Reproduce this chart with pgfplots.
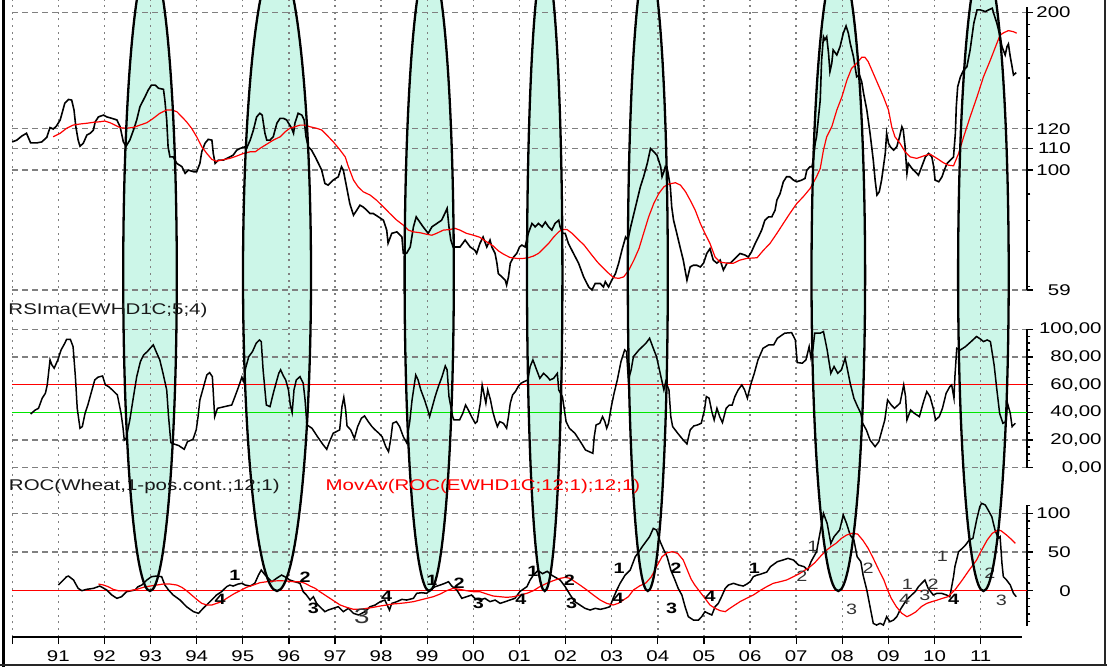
\documentclass[border=0pt]{standalone}
\usepackage{fontspec}
\setmainfont{Liberation Sans}
\newfontfamily\chartfont[FakeStretch=1.32]{Liberation Sans}
\usepackage{pgfplots}
\pgfplotsset{compat=1.18}
\definecolor{aqua}{RGB}{204,246,232}
\definecolor{gridgray}{RGB}{128,128,128}
\definecolor{rsigreen}{RGB}{0,230,0}
\newcommand{\tickfont}{\chartfont\fontsize{15.5}{15.5}\selectfont}
\newcommand{\labfont}{\chartfont\fontsize{15.5}{15.5}\selectfont}
\newcommand{\bnum}{\chartfont\fontsize{15}{15}\selectfont\bfseries}
\newcommand{\rnum}{\chartfont\fontsize{15}{15}\selectfont}
\pgfplotsset{
  panel/.style={scale only axis, anchor=south west, width=1014.64pt, xmin=1990, xmax=2012, clip=false,
    axis x line=none, axis y line*=right, y axis line style={-, line width=1.6pt, black},
    ytick style={line width=1.3pt, black}, tick align=outside, major tick length=6pt, minor tick length=3.5pt,
    ymajorgrids, major grid style={gridgray, line width=1.2pt, dash pattern=on 6pt off 4pt},
    yticklabel style={font=\tickfont, anchor=east, inner sep=0pt},
  }
}
\begin{document}
\begin{tikzpicture}
\useasboundingbox (0,0) rectangle (1107pt,667pt);
\begin{scope}
\clip (0,0) rectangle (1107pt,667pt);
\foreach \cx/\a in {150/26.8, 277/34, 429.2/24.6, 544.7/17.7, 647.8/20, 838.3/26.8, 983.4/25.3} {
  \fill[aqua] (\cx pt,392pt) ellipse [x radius=\a pt, y radius=316pt];
}
\end{scope}

% background axis: vertical grid and time axis
\begin{axis}[at={(12.2pt,30.3pt)}, anchor=south west, scale only axis, width=1010.03pt, height=636.7pt,
 xmin=1990, xmax=2011.9, ymin=0, ymax=1,
 axis x line*=bottom, axis y line=none,
 x axis line style={-, line width=1.6pt, black},
 xtick={1990,...,2011}, xticklabels={,91,92,93,94,95,96,97,98,99,00,01,02,03,04,05,06,07,08,09,10,11},
 minor x tick num=3, tick align=outside, major tick length=7.5pt, minor tick length=4pt,
 xtick style={line width=1.3pt, black},
 xmajorgrids, major grid style={gridgray, line width=1.4pt, dash pattern=on 2pt off 4.7pt},
 xticklabel style={font=\tickfont, inner sep=0pt, anchor=north, yshift=-6.5pt},
]
\end{axis}

% panel 1: price (log)
\begin{axis}[panel, at={(12.2pt,377pt)}, height=283.3pt, ymode=log, ymin=59, ymax=205.3,
 ytick={59,100,110,120,200}, yticklabels={59,100,110,120,200},
 minor ytick={60,70,80,90,130,140,150,160,170,180,190},
 yticklabel style={xshift=38pt}]
\addplot[black, mark=none, line width=1.6pt] table {
1990.00 113.2
1990.10 114.1
1990.21 116.2
1990.31 117.6
1990.40 112.7
1990.53 112.7
1990.64 113.2
1990.75 115.5
1990.82 120.6
1990.89 119.8
1990.96 121.4
1991.04 124.7
1991.07 127.4
1991.14 134.2
1991.22 136.5
1991.29 136.1
1991.34 130.3
1991.38 121.0
1991.43 114.1
1991.47 111.1
1991.54 112.5
1991.62 116.7
1991.69 117.6
1991.76 119.3
1991.80 123.7
1991.87 126.4
1991.98 127.4
1992.05 126.4
1992.16 125.6
1992.27 124.7
1992.34 121.0
1992.41 113.2
1992.47 111.1
1992.55 114.1
1992.63 119.3
1992.70 124.7
1992.77 132.2
1992.88 138.1
1992.95 142.3
1993.02 145.4
1993.10 145.4
1993.17 143.4
1993.28 142.7
1993.31 136.1
1993.35 124.7
1993.38 110.8
1993.42 106.0
1993.49 106.0
1993.57 103.0
1993.68 101.5
1993.75 98.6
1993.82 100.0
1993.93 99.3
1994.00 99.3
1994.07 103.0
1994.11 108.4
1994.18 112.5
1994.25 114.5
1994.33 114.1
1994.36 107.6
1994.40 103.0
1994.47 104.5
1994.58 104.5
1994.72 106.0
1994.79 106.8
1994.87 109.2
1994.94 110.0
1995.05 110.8
1995.08 110.0
1995.16 114.1
1995.23 119.3
1995.30 126.4
1995.37 128.4
1995.42 127.4
1995.48 117.6
1995.52 114.1
1995.59 114.1
1995.66 115.8
1995.74 123.0
1995.81 125.6
1995.88 125.6
1995.95 124.7
1995.99 123.0
1996.06 120.2
1996.10 117.6
1996.13 123.0
1996.20 128.4
1996.28 127.4
1996.33 124.7
1996.37 115.8
1996.42 110.8
1996.49 109.2
1996.57 106.0
1996.64 103.0
1996.71 100.0
1996.78 94.3
1996.85 93.6
1996.96 95.7
1997.07 97.1
1997.14 101.5
1997.18 100.0
1997.25 92.9
1997.32 86.3
1997.40 82.0
1997.47 83.8
1997.54 85.7
1997.61 85.0
1997.69 83.8
1997.76 82.6
1997.83 82.6
1997.94 81.4
1998.05 80.2
1998.12 76.8
1998.15 72.5
1998.23 75.7
1998.34 76.2
1998.45 74.5
1998.48 69.3
1998.55 69.3
1998.63 71.3
1998.70 77.9
1998.76 81.4
1998.81 80.2
1998.91 77.9
1999.02 75.7
1999.10 77.9
1999.21 79.1
1999.31 80.2
1999.38 82.6
1999.43 84.5
1999.47 77.9
1999.51 73.5
1999.56 71.3
1999.71 71.3
1999.82 73.5
1999.93 71.3
2000.03 70.3
2000.07 69.3
2000.14 72.4
2000.21 74.5
2000.29 71.3
2000.36 73.5
2000.40 71.3
2000.47 69.3
2000.51 66.4
2000.54 63.4
2000.62 62.5
2000.69 61.6
2000.72 60.3
2000.76 62.5
2000.80 66.4
2000.87 68.2
2000.94 69.3
2001.00 71.3
2001.05 71.9
2001.12 71.3
2001.19 75.7
2001.27 79.1
2001.34 77.9
2001.41 79.1
2001.49 77.9
2001.56 79.6
2001.63 77.9
2001.70 76.8
2001.77 79.1
2001.85 80.2
2001.88 77.9
2001.94 75.7
2001.99 75.7
2002.06 72.4
2002.17 69.3
2002.28 66.4
2002.39 62.5
2002.50 59.8
2002.57 59.0
2002.64 60.7
2002.75 60.7
2002.82 59.8
2002.86 61.2
2002.93 59.8
2003.00 61.6
2003.08 63.4
2003.15 66.4
2003.22 70.3
2003.30 74.5
2003.35 73.5
2003.41 77.9
2003.48 82.6
2003.55 87.6
2003.62 92.9
2003.69 97.1
2003.77 103.0
2003.84 110.0
2003.91 108.4
2003.98 106.8
2004.06 101.5
2004.09 97.1
2004.13 99.3
2004.16 101.5
2004.21 100.0
2004.27 92.9
2004.30 85.0
2004.34 80.2
2004.41 75.7
2004.48 71.3
2004.55 67.3
2004.63 61.6
2004.70 65.3
2004.77 65.8
2004.84 65.8
2004.92 65.3
2004.99 66.4
2005.06 69.3
2005.13 70.8
2005.20 67.3
2005.28 66.4
2005.35 67.3
2005.42 64.4
2005.50 66.4
2005.57 66.4
2005.64 67.3
2005.71 68.3
2005.78 69.3
2005.89 68.8
2005.96 68.2
2006.03 69.8
2006.11 72.4
2006.18 74.5
2006.25 76.8
2006.32 80.2
2006.40 81.4
2006.47 81.4
2006.54 83.8
2006.58 87.6
2006.65 90.2
2006.72 95.0
2006.79 97.1
2006.86 97.1
2006.94 95.7
2007.01 95.0
2007.12 95.7
2007.19 96.4
2007.23 100.0
2007.30 101.5
2007.34 101.5
2007.37 104.5
2007.41 112.5
2007.44 115.8
2007.48 125.6
2007.52 136.1
2007.55 162.4
2007.59 179.9
2007.62 177.4
2007.66 179.9
2007.70 167.2
2007.73 154.2
2007.77 160.0
2007.80 169.7
2007.88 166.0
2007.95 172.2
2008.02 182.7
2008.08 188.6
2008.13 182.7
2008.17 174.8
2008.24 164.8
2008.31 150.8
2008.37 152.0
2008.42 147.5
2008.46 140.2
2008.53 130.3
2008.60 117.6
2008.67 104.5
2008.71 95.7
2008.75 89.6
2008.80 90.9
2008.85 95.7
2008.89 101.5
2008.93 107.6
2008.96 117.6
2009.00 112.5
2009.04 110.8
2009.11 109.2
2009.18 110.8
2009.24 115.8
2009.29 121.0
2009.32 119.3
2009.36 110.8
2009.40 98.6
2009.43 103.0
2009.51 100.7
2009.58 99.3
2009.65 97.8
2009.72 101.5
2009.80 106.0
2009.87 107.6
2009.94 106.0
2009.98 101.5
2010.01 95.7
2010.09 95.0
2010.16 97.1
2010.21 100.0
2010.27 103.0
2010.34 104.5
2010.41 106.0
2010.45 117.6
2010.47 132.2
2010.50 144.3
2010.56 150.8
2010.63 155.4
2010.70 157.6
2010.77 169.7
2010.85 190.9
2010.92 202.4
2010.99 202.4
2011.10 200.9
2011.17 202.4
2011.25 203.9
2011.28 199.4
2011.35 190.9
2011.42 179.9
2011.46 172.2
2011.53 166.0
2011.57 172.2
2011.60 174.2
2011.64 164.8
2011.68 157.6
2011.71 152.0
2011.77 153.6
};
\addplot[red, mark=none, line width=1.2pt] table {
1990.89 115.8
1991.04 117.6
1991.18 120.2
1991.32 121.9
1991.47 122.5
1991.62 122.9
1991.76 123.4
1991.90 123.7
1992.01 124.1
1992.12 123.2
1992.23 121.9
1992.34 120.5
1992.48 120.2
1992.63 120.7
1992.77 121.9
1992.92 123.2
1993.06 125.6
1993.20 128.4
1993.35 130.3
1993.46 130.3
1993.57 129.3
1993.68 126.4
1993.78 123.7
1993.89 120.2
1994.00 115.8
1994.11 110.8
1994.22 107.6
1994.33 104.8
1994.43 104.0
1994.54 104.5
1994.72 105.3
1994.87 106.4
1995.01 107.6
1995.16 108.4
1995.27 108.4
1995.37 110.0
1995.52 112.1
1995.66 114.1
1995.81 115.8
1995.92 118.4
1996.02 120.2
1996.13 121.0
1996.24 121.9
1996.35 121.9
1996.46 121.0
1996.60 120.2
1996.71 119.3
1996.82 116.7
1996.96 113.3
1997.11 109.2
1997.22 106.0
1997.29 101.5
1997.40 95.7
1997.50 92.9
1997.61 90.9
1997.76 89.6
1997.90 87.6
1998.05 85.0
1998.19 82.6
1998.34 80.2
1998.48 78.5
1998.59 76.8
1998.70 76.2
1998.85 75.9
1998.99 75.4
1999.10 75.1
1999.20 75.7
1999.35 76.8
1999.49 77.0
1999.60 77.4
1999.71 76.8
1999.85 75.7
2000.00 75.1
2000.14 74.4
2000.29 72.9
2000.43 71.6
2000.54 70.1
2000.65 69.1
2000.79 68.1
2000.94 67.8
2001.08 67.8
2001.19 68.0
2001.30 68.5
2001.41 69.3
2001.52 70.8
2001.63 72.4
2001.74 74.5
2001.85 76.2
2001.92 77.0
2002.03 77.0
2002.14 75.7
2002.25 74.0
2002.40 71.9
2002.54 69.3
2002.69 66.7
2002.83 64.8
2002.94 63.4
2003.04 62.3
2003.15 62.1
2003.26 62.5
2003.37 64.4
2003.48 67.3
2003.59 70.8
2003.69 75.7
2003.80 81.4
2003.91 86.3
2004.02 90.2
2004.13 92.9
2004.23 94.0
2004.38 94.6
2004.49 93.6
2004.60 90.9
2004.70 87.6
2004.81 83.8
2004.92 79.1
2005.02 75.7
2005.13 72.4
2005.24 68.2
2005.35 66.7
2005.50 66.4
2005.64 66.4
2005.78 67.3
2005.93 67.8
2006.15 68.0
2006.29 70.3
2006.43 72.4
2006.58 75.7
2006.72 79.1
2006.86 82.6
2007.01 86.3
2007.15 88.9
2007.30 92.2
2007.44 97.1
2007.52 100.7
2007.59 109.2
2007.66 115.8
2007.77 121.0
2007.88 130.3
2007.99 138.1
2008.10 148.7
2008.20 156.5
2008.31 160.0
2008.42 164.3
2008.49 164.3
2008.56 161.2
2008.67 153.1
2008.78 145.4
2008.89 138.1
2009.00 130.3
2009.07 121.0
2009.14 115.8
2009.25 112.5
2009.36 108.4
2009.47 106.0
2009.61 105.3
2009.76 106.4
2009.90 107.3
2010.05 105.3
2010.19 103.3
2010.30 102.2
2010.41 101.9
2010.52 107.6
2010.63 115.8
2010.77 126.4
2010.92 138.1
2011.06 150.8
2011.21 162.4
2011.35 174.8
2011.42 181.2
2011.50 183.1
2011.60 184.8
2011.71 183.9
2011.78 182.7
};
\end{axis}

% panel 2: RSI
\begin{axis}[panel, at={(12.2pt,199.3pt)}, height=138.4pt, ymin=0, ymax=100,
 ytick={0,20,40,60,80,100}, yticklabels={{0,00},{20,00},{40,00},{60,00},{80,00},{100,00}},
 minor ytick={5,10,15,25,30,35,45,50,55,65,70,75,85,90,95},
 yticklabel style={xshift=69pt}]
\addplot[red, mark=none, line width=1.3pt] coordinates {(1990,60) (2012,60)};
\addplot[rsigreen, mark=none, line width=1.3pt] coordinates {(1990,40) (2012,40)};
\addplot[black, mark=none, line width=1.5pt] table {
1990.40 38.8
1990.50 41.7
1990.57 42.9
1990.65 50.2
1990.72 53.8
1990.76 59.8
1990.80 71.9
1990.82 77.9
1990.86 74.3
1990.91 71.9
1990.99 77.9
1991.06 85.1
1991.14 89.9
1991.18 92.8
1991.26 92.8
1991.32 87.5
1991.37 65.8
1991.41 42.9
1991.47 28.5
1991.52 29.7
1991.58 39.3
1991.64 45.3
1991.71 53.8
1991.79 63.4
1991.86 65.4
1991.96 66.3
1992.02 59.8
1992.09 58.6
1992.17 56.2
1992.28 52.6
1992.36 39.3
1992.40 29.7
1992.43 20.0
1992.47 21.2
1992.55 34.5
1992.63 51.4
1992.70 65.8
1992.78 76.7
1992.85 81.5
1992.93 83.9
1993.01 87.0
1993.06 88.7
1993.12 83.9
1993.20 77.9
1993.27 68.2
1993.35 56.2
1993.39 36.9
1993.44 18.1
1993.50 17.2
1993.61 16.0
1993.73 13.3
1993.80 18.8
1993.92 20.5
1993.99 27.3
1994.03 36.9
1994.07 49.0
1994.15 58.6
1994.22 67.0
1994.28 68.7
1994.34 65.8
1994.39 36.9
1994.45 42.9
1994.60 44.1
1994.76 45.3
1994.83 51.4
1994.91 58.6
1994.98 65.4
1995.02 62.2
1995.06 71.9
1995.13 80.3
1995.21 83.9
1995.29 89.9
1995.36 92.3
1995.40 91.1
1995.44 70.7
1995.51 45.3
1995.59 44.1
1995.67 55.0
1995.78 68.2
1995.82 70.7
1995.88 66.3
1995.93 63.4
1995.99 56.2
1996.03 45.3
1996.07 39.8
1996.11 56.2
1996.16 63.4
1996.24 65.8
1996.31 61.0
1996.35 49.0
1996.39 30.9
1996.50 28.5
1996.62 22.4
1996.73 17.1
1996.82 13.3
1996.88 18.8
1996.96 24.9
1997.03 26.1
1997.10 27.3
1997.15 44.1
1997.19 50.9
1997.23 41.7
1997.26 30.2
1997.34 27.3
1997.42 21.2
1997.49 29.7
1997.57 35.7
1997.64 37.4
1997.72 33.3
1997.80 29.7
1997.87 27.3
1997.95 24.9
1998.02 22.4
1998.10 15.2
1998.16 11.6
1998.21 21.2
1998.25 32.1
1998.33 33.3
1998.40 29.7
1998.48 22.4
1998.56 17.6
1998.58 24.9
1998.62 33.3
1998.67 49.0
1998.75 67.0
1998.80 63.4
1998.86 56.2
1998.94 49.0
1999.00 42.9
1999.05 36.9
1999.10 42.9
1999.17 51.4
1999.24 58.6
1999.32 65.8
1999.39 73.5
1999.43 70.7
1999.47 51.4
1999.55 36.9
1999.58 34.5
1999.70 34.5
1999.77 39.3
1999.83 45.3
1999.89 41.7
1999.96 36.9
2000.04 32.1
2000.08 33.3
2000.15 46.6
2000.19 59.8
2000.27 46.6
2000.31 56.2
2000.37 49.0
2000.42 40.5
2000.47 34.5
2000.52 29.7
2000.57 33.3
2000.65 32.1
2000.72 28.5
2000.76 36.9
2000.80 46.6
2000.85 52.6
2000.91 55.0
2000.97 58.6
2001.03 61.0
2001.10 62.2
2001.18 63.4
2001.23 73.1
2001.29 77.9
2001.37 70.7
2001.44 64.6
2001.52 68.2
2001.60 65.8
2001.66 63.4
2001.74 64.6
2001.82 68.2
2001.85 56.2
2001.93 51.4
2002.01 33.3
2002.08 28.5
2002.20 24.9
2002.32 18.8
2002.43 12.8
2002.51 11.6
2002.59 10.4
2002.62 22.4
2002.66 30.9
2002.74 32.1
2002.80 36.9
2002.85 33.3
2002.89 28.5
2002.93 32.1
2002.99 44.1
2003.05 53.8
2003.12 63.4
2003.20 76.7
2003.28 85.1
2003.32 83.9
2003.36 63.4
2003.42 70.7
2003.47 80.3
2003.59 85.1
2003.74 89.9
2003.82 93.5
2003.90 86.3
2003.97 80.3
2004.05 68.2
2004.13 56.2
2004.17 62.2
2004.24 56.2
2004.28 36.9
2004.32 29.7
2004.43 24.9
2004.55 20.0
2004.63 17.2
2004.70 27.3
2004.78 30.2
2004.86 30.9
2004.94 32.1
2005.01 41.7
2005.05 51.4
2005.11 50.2
2005.17 40.5
2005.22 34.5
2005.28 42.9
2005.34 36.9
2005.40 32.6
2005.48 42.9
2005.55 45.3
2005.61 45.3
2005.67 51.4
2005.74 56.2
2005.82 59.8
2005.88 56.2
2005.94 50.2
2006.01 59.8
2006.09 68.2
2006.17 77.9
2006.28 86.3
2006.40 88.7
2006.51 88.7
2006.59 93.5
2006.75 97.2
2006.90 97.6
2006.98 92.3
2007.02 76.0
2007.13 75.5
2007.21 77.9
2007.28 87.5
2007.32 79.1
2007.36 85.1
2007.40 97.2
2007.52 97.2
2007.59 98.4
2007.67 85.1
2007.75 68.2
2007.82 73.1
2007.90 68.2
2007.98 70.7
2008.06 79.1
2008.09 74.3
2008.17 61.0
2008.25 50.2
2008.33 44.1
2008.40 39.3
2008.44 32.1
2008.52 27.3
2008.60 20.0
2008.71 15.2
2008.79 18.8
2008.86 27.3
2008.92 34.5
2008.98 49.0
2009.06 45.3
2009.13 42.9
2009.25 46.6
2009.33 59.8
2009.37 51.4
2009.40 34.5
2009.48 41.7
2009.56 39.3
2009.67 36.9
2009.75 46.6
2009.83 55.0
2009.90 51.4
2009.97 42.9
2010.02 34.5
2010.10 36.9
2010.17 42.9
2010.25 53.8
2010.33 58.6
2010.37 59.8
2010.42 50.2
2010.44 65.8
2010.48 86.3
2010.56 85.1
2010.67 87.5
2010.79 91.1
2010.91 94.8
2011.00 92.8
2011.06 91.1
2011.14 92.3
2011.21 91.1
2011.29 74.3
2011.35 56.2
2011.41 39.3
2011.48 32.1
2011.55 33.3
2011.58 46.6
2011.64 39.3
2011.68 29.7
2011.75 32.1
};
\end{axis}

% panel 3: ROC
\begin{axis}[panel, at={(12.2pt,41.5pt)}, height=120.7pt, ymin=-45, ymax=111,
 ytick={0,50,100}, yticklabels={0,50,100},
 minor ytick={-40,-30,-20,-10,10,20,30,40,60,70,80,90,110},
 yticklabel style={xshift=38pt}]
\addplot[red, mark=none, line width=1.3pt] coordinates {(1990,0) (2012,0)};
\addplot[black, mark=none, line width=1.5pt] table {
1991.00 7.3
1991.18 18.1
1991.22 18.9
1991.33 13.8
1991.43 3.0
1991.51 0.0
1991.61 1.7
1991.76 3.0
1991.90 6.0
1992.05 0.9
1992.16 -5.6
1992.27 -9.9
1992.37 -7.8
1992.48 -1.3
1992.59 0.0
1992.66 0.9
1992.73 5.2
1992.81 7.3
1992.92 13.8
1993.02 18.1
1993.13 18.9
1993.24 18.1
1993.31 7.3
1993.39 0.9
1993.49 -5.6
1993.64 -12.1
1993.78 -20.7
1993.93 -27.1
1994.04 -29.3
1994.14 -22.8
1994.25 -16.4
1994.36 -9.9
1994.43 -5.6
1994.54 -1.3
1994.65 5.2
1994.72 7.3
1994.79 6.0
1994.90 8.6
1994.98 9.5
1995.05 7.3
1995.16 6.0
1995.26 9.5
1995.34 20.2
1995.40 26.7
1995.46 22.0
1995.52 18.1
1995.63 11.6
1995.73 15.9
1995.84 20.2
1995.91 18.1
1996.02 13.8
1996.13 11.6
1996.24 9.5
1996.31 -1.3
1996.38 -5.6
1996.46 -12.1
1996.53 -7.8
1996.60 -16.4
1996.67 -20.7
1996.78 -27.1
1996.85 -25.0
1996.96 -22.8
1997.07 -20.7
1997.18 -27.1
1997.29 -22.8
1997.40 -29.3
1997.51 -31.4
1997.65 -27.1
1997.76 -20.7
1997.87 -18.5
1997.98 -14.2
1998.08 -12.1
1998.18 -25.0
1998.23 -16.4
1998.34 -14.2
1998.45 -11.2
1998.55 -12.1
1998.70 -9.9
1998.77 -3.4
1998.88 -2.6
1998.99 -3.4
1999.06 0.9
1999.17 5.2
1999.28 7.3
1999.38 9.5
1999.46 11.6
1999.53 6.0
1999.64 0.9
1999.75 -9.9
1999.85 -7.8
1999.96 -5.6
2000.03 -9.9
2000.14 -12.1
2000.25 -9.9
2000.36 -14.2
2000.47 -12.1
2000.58 -16.4
2000.69 -14.2
2000.79 -12.1
2000.90 -9.9
2001.01 -1.0
2001.16 5.2
2001.23 13.8
2001.30 20.2
2001.40 26.0
2001.50 22.0
2001.60 25.0
2001.70 20.0
2001.73 18.9
2001.88 13.8
2001.99 5.2
2002.10 -5.6
2002.20 -14.2
2002.31 -18.5
2002.42 -22.8
2002.53 -25.0
2002.64 -22.8
2002.75 -24.1
2002.85 -22.8
2002.96 -20.7
2003.03 -9.9
2003.11 0.9
2003.18 9.5
2003.29 20.2
2003.40 26.7
2003.51 43.9
2003.59 50.4
2003.66 56.8
2003.74 63.3
2003.82 69.8
2003.90 80.5
2003.97 78.4
2004.05 63.3
2004.13 52.5
2004.20 43.9
2004.28 26.7
2004.37 13.8
2004.44 3.0
2004.52 -5.6
2004.59 -20.7
2004.66 -33.6
2004.77 -37.9
2004.88 -37.9
2004.95 -33.6
2005.02 -27.1
2005.09 -29.3
2005.17 -31.4
2005.24 -20.7
2005.31 -16.4
2005.38 -7.8
2005.46 3.0
2005.53 7.3
2005.64 9.5
2005.75 7.3
2005.85 6.0
2005.93 8.6
2006.00 11.6
2006.07 18.1
2006.14 20.0
2006.21 21.0
2006.36 24.0
2006.44 31.0
2006.59 37.5
2006.71 39.6
2006.82 41.8
2006.94 39.6
2007.05 33.2
2007.17 31.0
2007.25 26.7
2007.32 37.5
2007.44 50.4
2007.52 76.2
2007.59 99.9
2007.67 87.0
2007.75 61.1
2007.82 69.8
2007.94 78.4
2008.02 97.8
2008.09 87.0
2008.17 71.9
2008.25 65.5
2008.32 43.9
2008.40 37.5
2008.45 20.0
2008.53 0.9
2008.60 -20.7
2008.67 -42.2
2008.74 -44.4
2008.82 -42.2
2008.89 -44.4
2008.96 -33.6
2009.03 -40.1
2009.11 -37.9
2009.18 -33.6
2009.25 -25.0
2009.32 -18.5
2009.39 -12.1
2009.50 -5.6
2009.58 -1.3
2009.65 5.2
2009.72 9.5
2009.79 13.8
2009.86 3.0
2009.97 -5.6
2010.05 -3.4
2010.15 -3.4
2010.26 -5.6
2010.33 -7.8
2010.41 18.1
2010.44 31.0
2010.52 50.4
2010.60 54.7
2010.67 59.0
2010.75 65.5
2010.83 67.6
2010.91 91.3
2010.98 108.5
2011.02 112.9
2011.10 110.7
2011.16 104.3
2011.24 95.6
2011.31 78.4
2011.38 67.7
2011.42 69.8
2011.46 35.4
2011.49 18.1
2011.56 13.8
2011.64 7.4
2011.71 -3.4
2011.77 -7.8
};
\addplot[red, mark=none, line width=1.2pt] table {
1991.87 8.6
1991.98 7.3
1992.08 5.2
1992.19 1.7
1992.30 0.0
1992.41 0.0
1992.55 0.0
1992.70 1.7
1992.84 4.3
1992.99 6.0
1993.13 7.3
1993.28 8.6
1993.42 8.6
1993.57 7.3
1993.68 4.3
1993.78 0.0
1993.89 -5.6
1994.00 -11.2
1994.11 -16.4
1994.22 -18.5
1994.33 -18.5
1994.43 -16.4
1994.54 -14.2
1994.65 -9.9
1994.80 -4.3
1994.94 0.0
1995.08 4.3
1995.23 7.3
1995.37 10.3
1995.52 11.6
1995.66 12.5
1995.81 12.9
1995.95 12.5
1996.10 11.6
1996.24 11.6
1996.35 9.5
1996.46 6.0
1996.57 3.0
1996.67 -1.3
1996.78 -5.6
1996.89 -9.9
1997.00 -14.2
1997.11 -18.5
1997.25 -21.5
1997.40 -24.1
1997.54 -24.1
1997.69 -22.8
1997.83 -21.5
1997.98 -19.8
1998.12 -18.5
1998.26 -17.2
1998.41 -16.4
1998.55 -15.5
1998.70 -14.2
1998.84 -12.1
1998.99 -9.9
1999.13 -7.8
1999.28 -4.3
1999.42 0.0
1999.56 3.0
1999.71 1.7
1999.85 0.0
2000.00 -1.3
2000.14 -1.3
2000.29 -4.3
2000.43 -6.9
2000.58 -7.8
2000.72 -8.6
2000.87 -7.8
2001.01 -5.6
2001.16 -3.4
2001.30 0.0
2001.44 5.2
2001.59 9.5
2001.73 12.9
2001.88 15.9
2001.99 17.2
2002.10 15.9
2002.20 11.6
2002.31 7.3
2002.46 0.9
2002.60 -5.6
2002.75 -12.1
2002.89 -16.4
2003.03 -18.5
2003.14 -16.4
2003.25 -12.1
2003.36 -7.8
2003.47 0.9
2003.60 6.0
2003.74 10.0
2003.86 18.1
2003.97 31.0
2004.09 43.9
2004.20 49.1
2004.32 50.4
2004.43 48.2
2004.55 39.6
2004.65 25.0
2004.72 15.0
2004.80 7.3
2004.91 -1.3
2005.02 -9.9
2005.13 -18.5
2005.24 -22.8
2005.35 -25.8
2005.46 -27.1
2005.56 -22.8
2005.67 -18.5
2005.78 -14.2
2005.92 -9.9
2006.07 -5.6
2006.21 0.0
2006.36 5.2
2006.50 9.5
2006.65 11.6
2006.79 13.8
2006.94 18.1
2007.08 22.4
2007.28 30.0
2007.40 36.0
2007.52 44.0
2007.63 51.0
2007.75 56.8
2007.86 61.1
2007.98 67.6
2008.09 71.9
2008.21 74.1
2008.33 73.2
2008.44 65.5
2008.56 54.7
2008.67 41.8
2008.79 26.7
2008.90 13.8
2008.98 0.9
2009.06 -9.9
2009.17 -20.7
2009.29 -29.3
2009.40 -33.6
2009.48 -31.4
2009.60 -27.1
2009.71 -20.7
2009.83 -16.4
2009.94 -14.2
2010.06 -12.1
2010.17 -9.9
2010.29 -7.8
2010.44 0.9
2010.60 13.8
2010.75 26.7
2010.91 39.6
2011.02 52.5
2011.14 65.5
2011.25 74.1
2011.37 78.4
2011.44 77.5
2011.56 71.9
2011.68 65.5
2011.75 61.1
};
% cycle counting labels
\node[font=\bnum] at (axis cs:1994.83,20.3) {1};
\node[font=\bnum] at (axis cs:1996.35,17.3) {2};
\node[font=\bnum] at (axis cs:1994.51,-11.1) {4};
\node[font=\bnum] at (axis cs:1996.53,-22.7) {3};
\node[font=\chartfont\fontsize{21}{21}\selectfont, black!80] at (axis cs:1997.58,-33.6) {3};
\node[font=\bnum] at (axis cs:1998.12,-7.8) {4};
\node[font=\bnum] at (axis cs:1999.10,13.8) {1};
\node[font=\bnum] at (axis cs:1999.69,9.6) {2};
\node[font=\bnum] at (axis cs:2000.11,-16.3) {3};
\node[font=\bnum] at (axis cs:2001.03,-10.7) {4};
\node[font=\bnum] at (axis cs:2001.29,24.5) {1};
\node[font=\bnum] at (axis cs:2002.08,13.8) {2};
\node[font=\bnum] at (axis cs:2002.13,-16.3) {3};
\node[font=\bnum] at (axis cs:2003.14,-9.8) {4};
\node[font=\bnum] at (axis cs:2003.16,28.9) {1};
\node[font=\bnum] at (axis cs:2004.39,28.9) {2};
\node[font=\bnum] at (axis cs:2004.30,-22.7) {3};
\node[font=\bnum] at (axis cs:2005.13,-6.8) {4};
\node[font=\bnum] at (axis cs:2006.09,28.9) {1};
\node[font=\rnum, black!80] at (axis cs:2007.12,18.1) {2};
\node[font=\rnum, black!80] at (axis cs:2007.36,56.8) {1};
\node[font=\rnum, black!80] at (axis cs:2008.20,-24.0) {3};
\node[font=\rnum, black!80] at (axis cs:2008.56,28.9) {2};
\node[font=\rnum, black!80] at (axis cs:2009.41,8.7) {1};
\node[font=\rnum, black!80] at (axis cs:2009.97,8.7) {2};
\node[font=\rnum, black!80] at (axis cs:2009.35,-11.1) {4};
\node[font=\rnum, black!80] at (axis cs:2009.79,-5.6) {3};
\node[font=\bnum] at (axis cs:2010.41,-11.1) {4};
\node[font=\rnum, black!80] at (axis cs:2010.17,44.8) {1};
\node[font=\rnum, black!80] at (axis cs:2011.20,22.5) {2};
\node[font=\rnum, black!80] at (axis cs:2011.45,-12.0) {3};
\end{axis}

% ellipse outlines
\begin{scope}
\clip (0,0) rectangle (1107pt,667pt);
\foreach \cx/\a in {150/26.8, 277/34, 429.2/24.6, 544.7/17.7, 647.8/20, 838.3/26.8, 983.4/25.3} {
  \draw[black, line width=2.3pt] (\cx pt,392pt) ellipse [x radius=\a pt, y radius=316pt];
}
\end{scope}

% frame
\draw[black, line width=3pt] (3.5pt,0pt) -- (3.5pt,667pt);
\draw[black!85, line width=2pt] (0pt,2pt) -- (1107pt,2pt);
\draw[black!85, line width=1.5pt] (1105pt,2pt) -- (1105pt,667pt);

% indicator captions
\node[font=\labfont, text=black!90, anchor=west, inner sep=0pt] at (8.3pt,356.3pt) {RSIma(EWHD1C;5;4)};
\node[font=\labfont, text=black!90, anchor=west, inner sep=0pt] at (8.8pt,181pt) {ROC(Wheat,1-pos.cont.;12;1)};
\node[font=\labfont, text=red, anchor=west, inner sep=0pt] at (325.5pt,181pt) {MovAv(ROC(EWHD1C;12;1);12;1)};
\end{tikzpicture}
\end{document}
